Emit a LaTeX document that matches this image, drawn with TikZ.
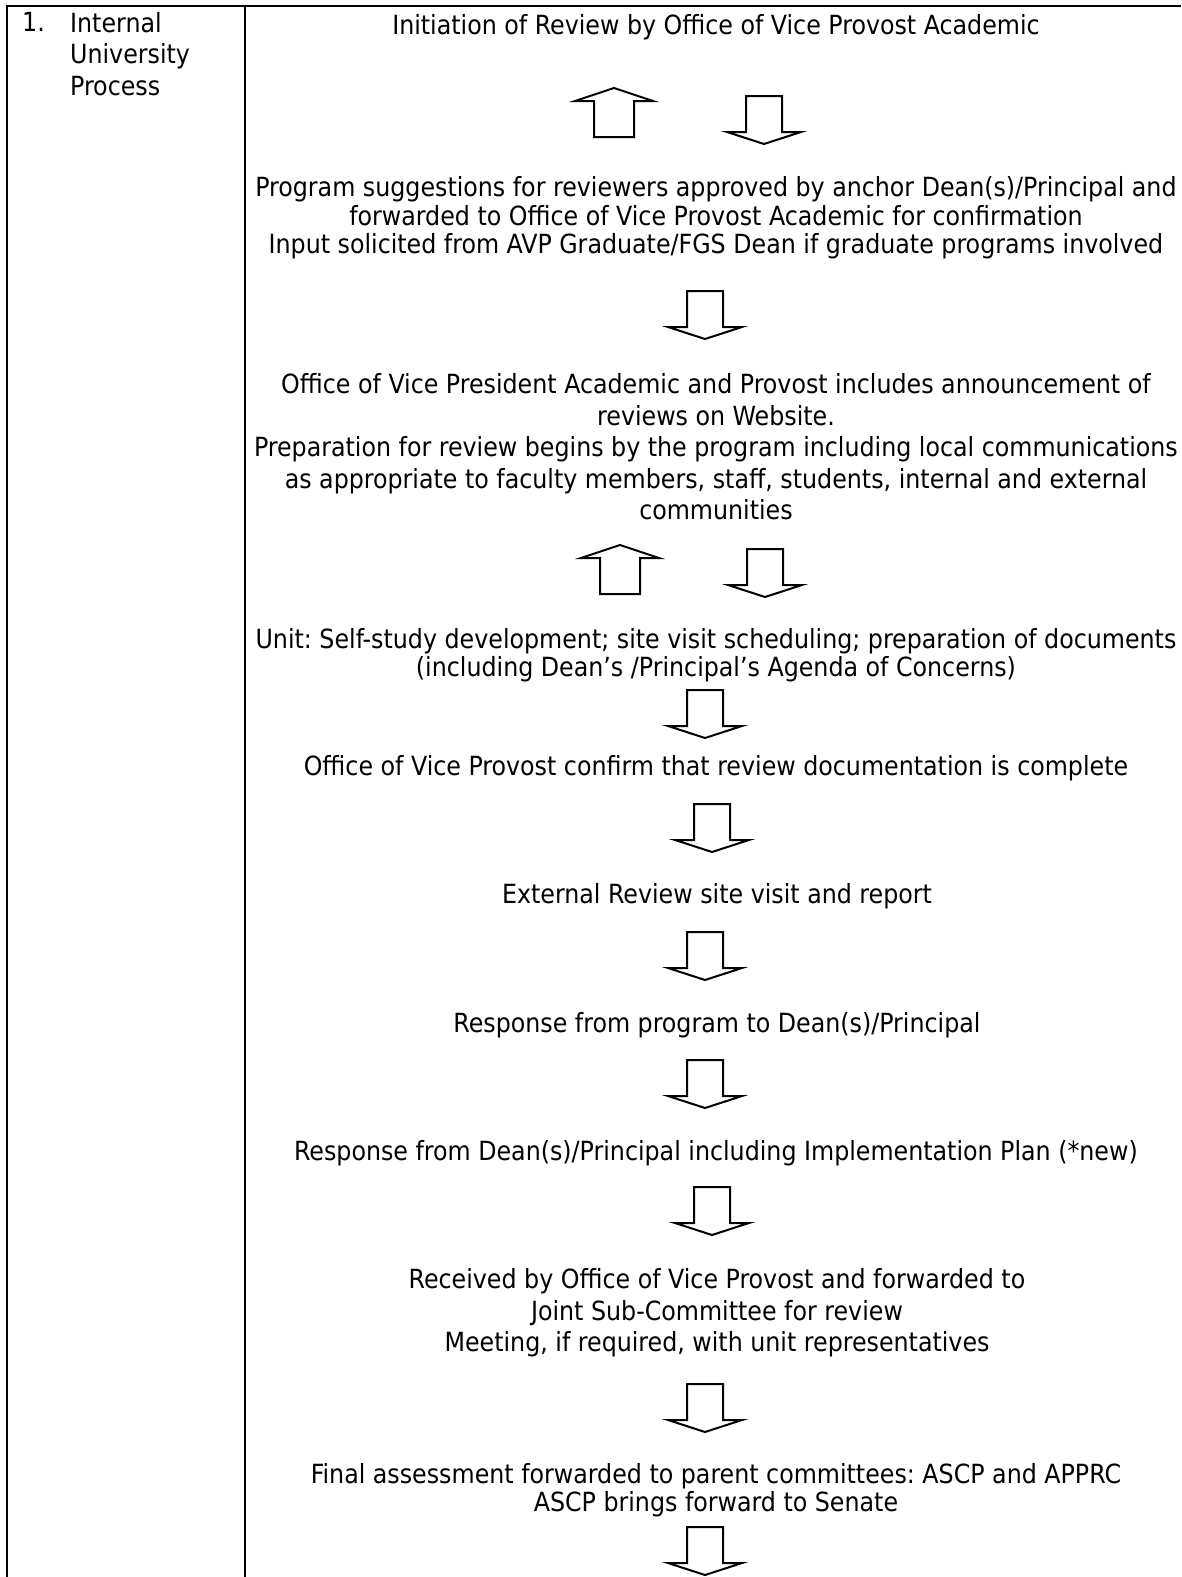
\documentclass[tikz,border=0pt]{standalone}
\usepackage{fontspec}
\setmainfont{DejaVu Sans Condensed}
\frenchspacing
\usetikzlibrary{positioning}
\newcommand{\flowfont}{\fontsize{26.4}{31.5}\selectfont}
\newcommand{\tightfont}{\fontsize{26.4}{28.5}\selectfont}
\tikzset{
  tableline/.style={line width=2pt},
  flowtext/.style={align=center, font=\flowfont, inner sep=0pt},
  blockarrow/.style={line width=2pt, line join=miter}
}
\begin{document}
\begin{tikzpicture}[x=1pt, y=-1pt]
    \useasboundingbox (0,0) rectangle (1181,1577);

    % table frame
    \draw[tableline] (7,1577) -- (7,6) -- (1181,6);
    \draw[tableline] (245,6) -- (245,1577);
    \node[font=\flowfont, anchor=north west, inner sep=0pt] (num) at (22,12) {1.};
    \node[font=\flowfont, anchor=north west, align=left, inner sep=0pt] (stage) at (70,12) {Internal\\ University\\ Process};

    % steps
    \node[flowtext] (init) at (716,27) {Initiation of Review by Office of Vice Provost Academic};
    \node[flowtext, font=\tightfont] (suggest) at (716,218) {Program suggestions for reviewers approved by anchor Dean(s)/Principal and\\ forwarded to Office of Vice Provost Academic for confirmation\\ Input solicited from AVP Graduate/FGS Dean if graduate programs involved};
    \node[flowtext] (announce) at (716,447) {Office of Vice President Academic and Provost includes announcement of\\ reviews on Website.\\ Preparation for review begins by the program including local communications\\ as appropriate to faculty members, staff, students, internal and external\\ communities};
    \node[flowtext, font=\tightfont] (selfstudy) at (716,655) {Unit: Self-study development; site visit scheduling; preparation of documents\\ (including Dean’s /Principal’s Agenda of Concerns)};
    \node[flowtext] (confirm) at (716,768) {Office of Vice Provost confirm that review documentation is complete};
    \node[flowtext] (visit) at (717,896) {External Review site visit and report};
    \node[flowtext] (progresp) at (717,1025) {Response from program to Dean(s)/Principal};
    \node[flowtext] (deanresp) at (716,1153) {Response from Dean(s)/Principal including Implementation Plan (*new)};
    \node[flowtext] (received) at (717,1313) {Received by Office of Vice Provost and forwarded to\\ Joint Sub-Committee for review\\ Meeting, if required, with unit representatives};
    \node[flowtext, font=\tightfont] (final) at (716,1490) {Final assessment forwarded to parent committees: ASCP and APPRC\\ ASCP brings forward to Senate};

    % up arrows
    \foreach \x/\y in {614/88, 620/545} {
        \draw[blockarrow] (\x,\y) -- (\x+39,\y+13) -- (\x+20,\y+13) -- (\x+20,\y+49)
            -- (\x-20,\y+49) -- (\x-20,\y+13) -- (\x-39,\y+13) -- cycle;
    }
    % down arrows
    \foreach \x/\y in {764/96, 705/291, 765/549, 705/690, 712/804, 705/932, 705/1060, 712/1187, 705/1384, 705/1527} {
        \draw[blockarrow] (\x-18,\y) -- (\x+18,\y) -- (\x+18,\y+36) -- (\x+37,\y+36)
            -- (\x,\y+48) -- (\x-37,\y+36) -- (\x-18,\y+36) -- cycle;
    }
\end{tikzpicture}
\end{document}
